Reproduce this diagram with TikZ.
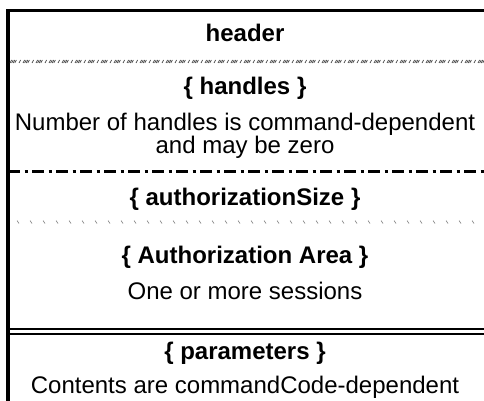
\documentclass[tikz,border=0pt]{standalone}
\usepackage{fontspec}
\setmainfont{Liberation Sans}
\begin{document}
\begin{tikzpicture}[x=1pt,y=-1pt]
            \useasboundingbox (0,0) rectangle (484,401);
            \tikzstyle{every node} = [align=center, anchor=base, inner sep=0pt, font=\fontsize{24}{26}\selectfont]
            \tikzstyle{fld} = [font=\fontsize{24}{26}\selectfont\bfseries]

            % frame
            \draw[line width=3.5pt] (484,10.5) -- (8,10.5) -- (8,401);

            % texts
            \node[fld](hdr) at (245,42){header};
            \node[fld](hnd) at (245,95){\{ handles \}};
            \node(hndtxt) at (245,130){Number of handles is command-dependent};
            \node(hndtxt2) at (245,153){and may be zero};
            \node[fld](asz) at (245,205){\{ authorizationSize \}};
            \node[fld](aar) at (245,263){\{ Authorization Area \}};
            \node(aartxt) at (245,299){One or more sessions};
            \node[fld](par) at (245,359){\{ parameters \}};
            \node(partxt) at (245,393){Contents are commandCode-dependent};

            % separators
            \foreach \x in {10,23,...,484} {
                \foreach \d in {0,1.6,3.2,4.8,9} {
                    \draw[line width=0.7pt, black!75] (\x+\d,63) -- (\x+\d+1.6,60);
                }
            }
            \draw[line width=3pt, dash pattern=on 12pt off 4.5pt on 3pt off 4.5pt] (8,171.5) -- (484,171.5);
            \foreach \x in {17,30,...,484} {
                \draw[line width=0.6pt, black!50] (\x,220.5) -- (\x+2,223.5);
            }
            \draw[line width=2pt] (8,328.5) -- (484,328.5);
            \draw[line width=2pt] (8,333.5) -- (484,333.5);
      \end{tikzpicture}
\end{document}
